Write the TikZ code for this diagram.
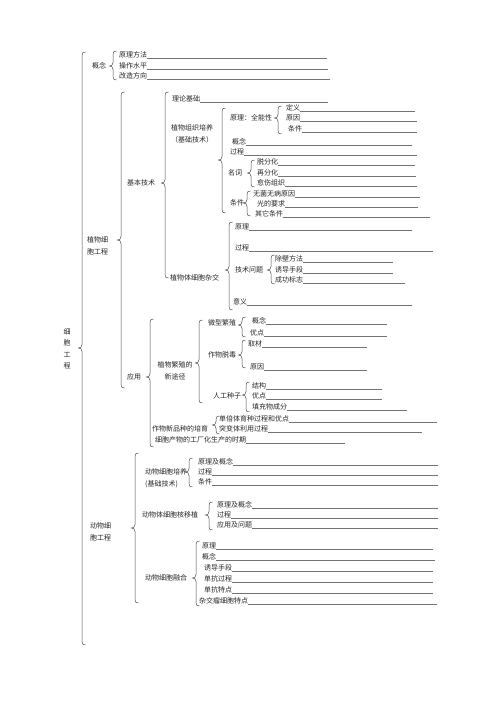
\documentclass[tikz,border=0pt]{standalone}
\usepackage{fontspec}
\newfontfamily\cjk{Noto Sans CJK SC}
\tikzset{
  t/.style={inner sep=0pt, anchor=west, font=\cjk\fontsize{7}{8}\selectfont, text=black!85},
  tc/.style={inner sep=0pt, font=\cjk\fontsize{7}{11.5}\selectfont, text=black!85},
  ulstyle/.style={draw=black!55, line width=0.45pt},
  brc/.style={draw=black!70, line width=0.5pt},
}
\newcommand\uln[2]{\draw[ulstyle] (#1.south east) -- (#1.south east -| #2,0);}
\newcommand\cbr[4]{\draw[brc] (#1+3.5,#2) .. controls (#1+1,#2) and (#1,#2+1) .. (#1,#2+3.5) -- (#1,#3-3.5) .. controls (#1,#3-1) and (#1-1.5,#3) .. (#1-3.5,#3) .. controls (#1-1.5,#3) and (#1,#3+1) .. (#1,#3+3.5) -- (#1,#4-3.5) .. controls (#1,#4-1) and (#1+1,#4) .. (#1+3.5,#4);}
\begin{document}
\begin{tikzpicture}[x=1pt,y=-1pt]
\useasboundingbox[fill=white] (0,0) rectangle (500,709);
% main
\node[tc, align=center] (root) at (67,349) {细\\胞\\工\\程};
\cbr{82}{52}{348}{645}
% concept
\node[t] (gn) at (92,66) {概念};
\cbr{113}{51}{66}{80}
\node[t] (g1) at (119,55) {原理方法}; \uln{g1}{327}
\node[t] (g2) at (119,66) {操作水平}; \uln{g2}{328}
\node[t] (g3) at (119,76) {改造方向}; \uln{g3}{330}
% plant cell engineering
\node[tc, align=left, anchor=west] (pce) at (87,246) {植物细\\胞工程};
\cbr{121}{92}{240}{388}
\node[t] (jb) at (127,183) {基本技术};
\cbr{165}{92}{183}{278}
\node[t] (ll) at (172,99) {理论基础}; \uln{ll}{328}
\node[tc, align=center] (zz) at (192,134) {植物组织培养\\（基础技术）};
\cbr{222}{108}{160}{213}
\node[t] (yl) at (230,118) {原理：全能性};
\cbr{278}{106}{118}{134}
\node[t] (dy) at (286,108) {定义}; \uln{dy}{415}
\node[t] (yy) at (286,118) {原因}; \uln{yy}{417}
\node[t] (tj) at (288,129) {条件}; \uln{tj}{417}
\node[t] (gn2) at (232,142) {概念}; \uln{gn2}{412}
\node[t] (gc) at (230,152) {过程}; \uln{gc}{417}
\node[t] (mc) at (228,173) {名词};
\cbr{251}{160}{173}{187}
\node[t] (tf) at (257,162) {脱分化}; \uln{tf}{415}
\node[t] (zf) at (257,173) {再分化}; \uln{zf}{416}
\node[t] (ys) at (257,183) {愈伤组织}; \uln{ys}{417}
\node[t] (tj2) at (230,203) {条件};
\cbr{247}{191}{203}{216}
\node[t] (wj) at (253,194) {无菌无病原因}; \uln{wj}{420}
\node[t] (gy) at (257,204) {光的要求}; \uln{gy}{418}
\node[t] (qt) at (255,214) {其它条件}; \uln{qt}{430}
\node[t] (zt) at (170,278) {植物体细胞杂交};
\cbr{229}{222}{270}{310}
\node[t] (yl2) at (235,227) {原理}; \uln{yl2}{412}
\node[t] (gc2) at (235,248) {过程}; \uln{gc2}{433}
\node[t] (js) at (235,270) {技术问题};
\cbr{271}{255}{270}{284}
\node[t] (cb) at (275,259) {除壁方法}; \uln{cb}{393}
\node[t] (yd) at (275,270) {诱导手段}; \uln{yd}{393}
\node[t] (cg) at (275,280) {成功标志}; \uln{cg}{405}
\node[t] (yi) at (233,302) {意义}; \uln{yi}{412}
% applications
\node[t] (yy2) at (127,377) {应用};
\cbr{150}{319}{377}{447}
\node[tc, align=center] (fz) at (175,371) {植物繁殖的\\新途径};
\cbr{199}{320}{363}{403}
\node[t] (wx) at (208,323) {微型繁殖};
\cbr{242}{317}{325}{337}
\node[t] (gn3) at (252,321) {概念}; \uln{gn3}{387}
\node[t] (yd2) at (250,333) {优点}; \uln{yd2}{387}
\node[t] (zw) at (208,355) {作物脱毒};
\cbr{242}{340}{355}{368}
\node[t] (qc) at (248,344) {取材}; \uln{qc}{367}
\node[t] (yy3) at (250,367) {原因}; \uln{yy3}{367}
\node[t] (rg) at (213,396) {人工种子};
\cbr{246}{382}{395}{412}
\node[t] (jg) at (252,386) {结构}; \uln{jg}{382}
\node[t] (yd3) at (252,396) {优点}; \uln{yd3}{382}
\node[t] (tc) at (252,407) {填充物成分}; \uln{tc}{407}
\node[t] (xp) at (152,429) {作物新品种的培育};
\cbr{216}{416}{425}{434}
\node[t] (db) at (219,419) {单倍体育种过程和优点}; \uln{db}{437}
\node[t] (tb) at (219,429) {突变体利用过程}; \uln{tb}{422}
\node[t] (cw) at (155,440) {细胞产物的工厂化生产的时期}; \uln{cw}{345}
% animal cell engineering
\node[tc, align=left, anchor=west] (ace) at (90,532) {动物细\\胞工程};
\cbr{135}{453}{528}{603}
\node[tc, align=left, anchor=west] (dp) at (145,478) {动物细胞培养\\(基础技术)};
\cbr{189}{458}{472}{487}
\node[t] (a1) at (198,462) {原理及概念}; \uln{a1}{438}
\node[t] (a2) at (198,472) {过程}; \uln{a2}{438}
\node[t] (a3) at (198,482) {条件}; \uln{a3}{438}
\node[t] (hy) at (142,515) {动物体细胞核移植};
\cbr{209}{502}{515}{530}
\node[t] (b1) at (217,505) {原理及概念}; \uln{b1}{438}
\node[t] (b2) at (217,515) {过程}; \uln{b2}{438}
\node[t] (b3) at (217,525) {应用及问题}; \uln{b3}{438}
\node[t] (rh) at (145,578) {动物细胞融合};
\cbr{196}{541}{578}{606}
\node[t] (c1) at (202,546) {原理}; \uln{c1}{433}
\node[t] (c2) at (202,557) {概念}; \uln{c2}{435}
\node[t] (c3) at (204,568) {诱导手段}; \uln{c3}{433}
\node[t] (c4) at (204,579) {单抗过程}; \uln{c4}{433}
\node[t] (c5) at (204,590) {单抗特点}; \uln{c5}{433}
\node[t] (c6) at (199,601) {杂交瘤细胞特点}; \uln{c6}{437}
\end{tikzpicture}
\end{document}
